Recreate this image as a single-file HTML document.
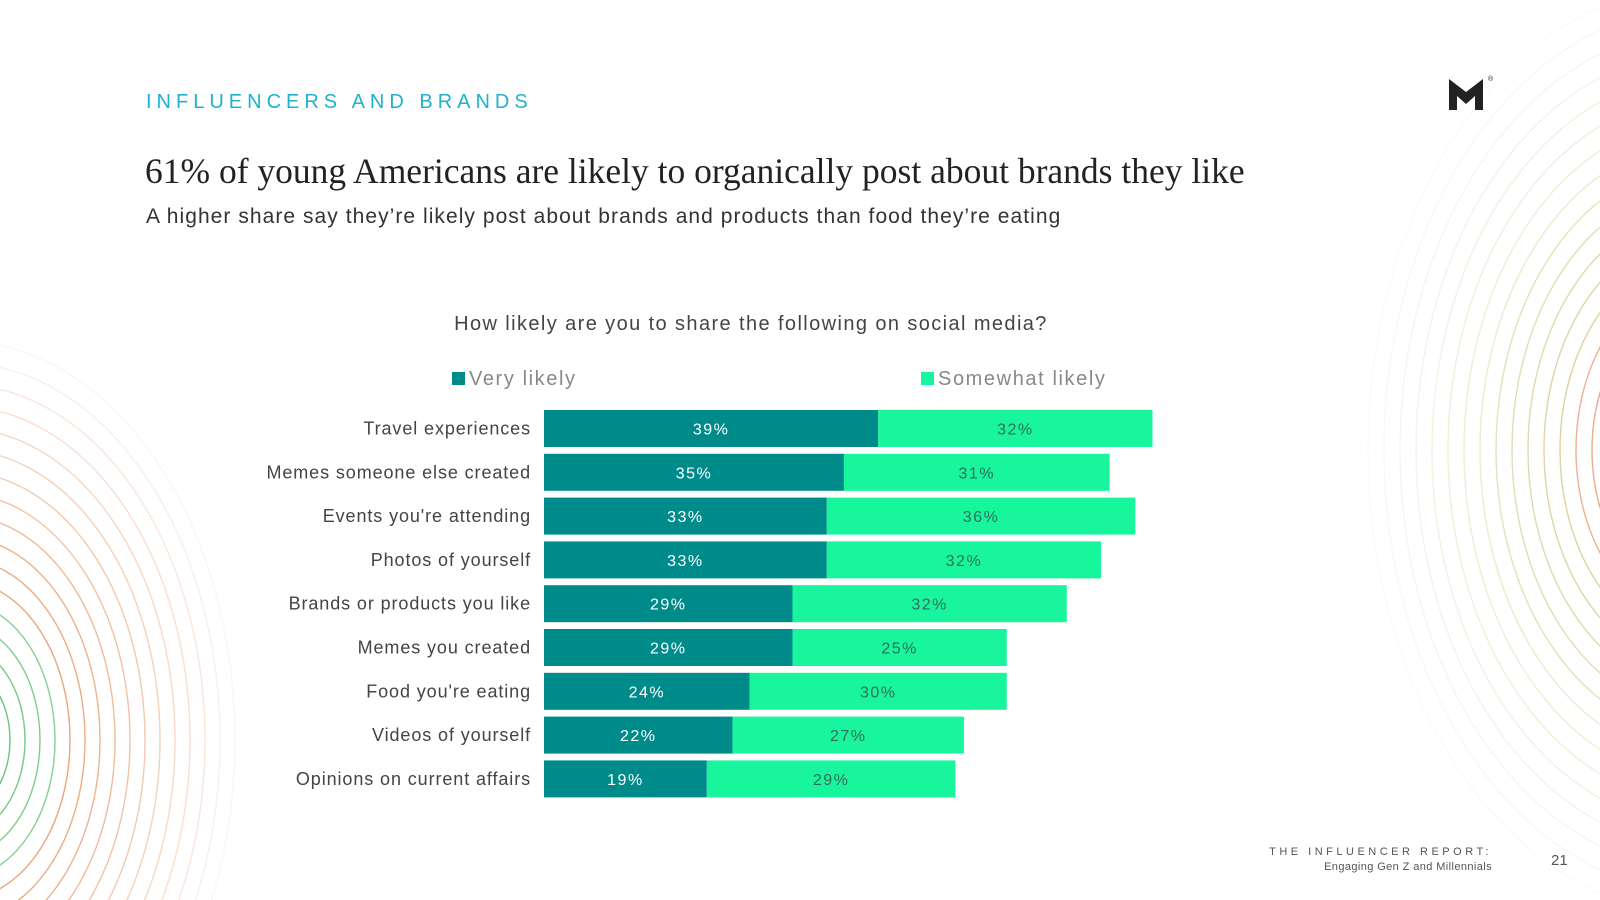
<!DOCTYPE html>
<html><head><meta charset="utf-8"><style>
html,body{margin:0;width:1600px;height:900px;overflow:hidden}
body{background:#fff;font-family:"Liberation Sans",sans-serif;position:relative}
.abs{position:absolute;margin:0}
svg{overflow:hidden}
</style></head><body>
<svg id="deco" class="abs" style="left:0;top:0" width="1600" height="900"></svg>
<div class="abs" style="left:146px;top:91px;font-size:20px;letter-spacing:5px;color:#1fb2cf">INFLUENCERS AND BRANDS</div>
<div class="abs" style="left:145px;top:150px;font-family:'Liberation Serif',serif;font-size:35.5px;color:#222;white-space:nowrap">61% of young Americans are likely to organically post about brands they like</div>
<div class="abs" style="left:146px;top:205px;font-size:21px;letter-spacing:1.05px;color:#333;white-space:nowrap">A higher share say they’re likely post about brands and products than food they’re eating</div>
<svg class="abs" style="left:1448px;top:74px" width="50" height="40"><path d="M1 5 L18 18 L35 5 L35 36 L27 36 L27 22 L18 30 L9 22 L9 36 L1 36 Z" fill="#222"/><text x="40" y="7" font-size="7" fill="#222">®</text></svg>
<svg id="chart" class="abs" style="left:0;top:0" width="1600" height="900"></svg>
<div class="abs" style="right:108px;top:846px;font-size:11px;letter-spacing:3.5px;color:#555">THE INFLUENCER REPORT:</div>
<div class="abs" style="right:108px;top:861px;font-size:11px;letter-spacing:0.4px;color:#555">Engaging Gen Z and Millennials</div>
<div class="abs" style="left:1551px;top:852px;font-size:15px;color:#555">21</div>
<script>
const categories=["Travel experiences","Memes someone else created","Events you're attending","Photos of yourself","Brands or products you like","Memes you created","Food you're eating","Videos of yourself","Opinions on current affairs"];
const veryLikely=[39,35,33,33,29,29,24,22,19];
const somewhatLikely=[32,31,36,32,32,25,30,27,29];
const seriesNames=["Very likely","Somewhat likely"];
const NS="http://www.w3.org/2000/svg";
function mk(parent,tag,attrs){const e=document.createElementNS(NS,tag);for(const k in attrs)e.setAttribute(k,attrs[k]);parent.appendChild(e);return e;}
const deco=document.getElementById('deco');
for(let i=0;i<16;i++){const r=50+i*15;const op=Math.max(0.05,0.9-i*0.055);
 const col=i<4?'#5cbf6a':'#e07a3a';
 mk(deco,'ellipse',{cx:-40,cy:740,rx:r,ry:r*1.45,fill:'none',stroke:col,'stroke-width':1.4,opacity:op});}
for(let i=0;i<18;i++){const r=60+i*16;const op=Math.max(0.05,0.85-i*0.045);
 const col=i<5?'#e58a5a':(i<10?'#c9b860':'#b8d88a');
 mk(deco,'ellipse',{cx:1700,cy:450,rx:r,ry:r*1.4,fill:'none',stroke:col,'stroke-width':1.4,opacity:op});}
const svg=document.getElementById('chart');
const x0=544,pxPer=8.57,y0=410,pitch=43.8,bh=37;
const xs=v=>x0+v*pxPer;
const ys=i=>y0+i*pitch;
let t=mk(svg,'text',{x:751,y:330,'text-anchor':'middle','font-size':20,'letter-spacing':1.4,fill:'#444','font-family':'Liberation Sans'});t.textContent="How likely are you to share the following on social media?";


const lx=[452,921],lc=['#008b8b','#19f59c'];
seriesNames.forEach((n,k)=>{
 const r=mk(svg,'rect',{x:lx[k],y:372,width:13,height:13,fill:lc[k]});
 
 
 const tt=mk(svg,'text',{x:lx[k]+17,y:385,'font-size':20,'letter-spacing':1.6,fill:'#888','font-family':'Liberation Sans'});tt.textContent=n;
 
 
});
categories.forEach((c,i)=>{
 const y=ys(i);
 const lab=mk(svg,'text',{x:531,y:y+bh/2+6,'text-anchor':'end','font-size':18,'letter-spacing':0.9,fill:'#444','font-family':'Liberation Sans'});lab.textContent=c;
 
 
 const a=veryLikely[i],b=somewhatLikely[i];
 const r1=mk(svg,'rect',{x:xs(0),y:y,width:xs(a)-xs(0),height:bh,fill:'#008b8b'});
 
 
 const r2=mk(svg,'rect',{x:xs(a),y:y,width:xs(a+b)-xs(a),height:bh,fill:'#19f59c'});
 
 
 const v1=mk(svg,'text',{x:(xs(0)+xs(a))/2,y:y+bh/2+6,'text-anchor':'middle','font-size':16,fill:'#fff','letter-spacing':1.5,'font-family':'Liberation Sans'});v1.textContent=a+'%';
 
 
 const v2=mk(svg,'text',{x:(xs(a)+xs(a+b))/2,y:y+bh/2+6,'text-anchor':'middle','font-size':16,fill:'#2f6f5a','letter-spacing':1.5,'font-family':'Liberation Sans'});v2.textContent=b+'%';
 
 
});
</script>
</body></html>
